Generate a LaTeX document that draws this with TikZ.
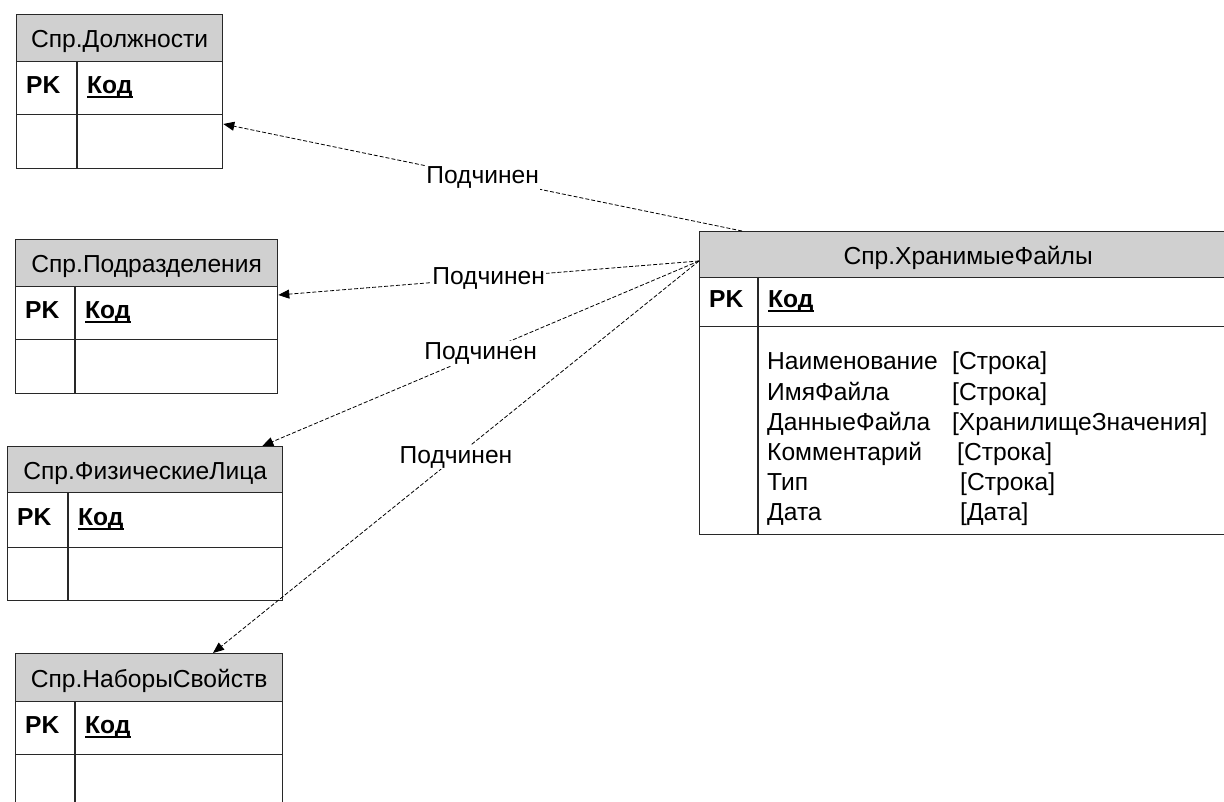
\documentclass[tikz,border=0pt]{standalone}
\usepackage{fontspec}
\setmainfont{Liberation Sans}
\usetikzlibrary{arrows.meta,calc}
\definecolor{hdrgray}{RGB}{208,208,208}
\definecolor{edge}{RGB}{40,40,40}
\newcommand\txtsize{\fontsize{24.6}{29}\selectfont}
% primary key name: bold with a heavy underline
\newcommand\keyname[1]{\setbox0\hbox{#1}\rlap{\rule[-4.3pt]{\wd0}{2pt}}\box0}
\tikzset{
  tbl/.style={draw=edge, line width=1.3pt},
  hdr/.style={tbl, fill=hdrgray, anchor=north west, inner sep=0pt,
    text height=20pt, text depth=1pt, font=\txtsize},
  rowbox/.style={tbl, anchor=north west, inner sep=0pt},
  pk/.style={anchor=base west, inner sep=0pt, font=\txtsize\bfseries},
  attr/.style={anchor=base west, inner sep=0pt, font=\txtsize},
  rel/.style={dash pattern=on 4pt off 2pt, line width=0.8pt,
    -{Triangle[length=11pt,width=9pt]}},
  lbl/.style={midway, fill=white, inner sep=1.5pt, font=\txtsize},
}
% #1 name, #2 left, #3 right, #4 top, #5 header bottom, #6 key row bottom,
% #7 bottom, #8 column divider, #9 title
\newcommand\erentity[9]{%
  \node[hdr, minimum width={(#3-#2)*1pt}, minimum height={(#5-#4)*1pt}] (#1) at (#2,#4) {#9};
  \node[rowbox, minimum width={(#3-#2)*1pt}, minimum height={(#6-#5)*1pt}] (#1-k) at (#2,#5) {};
  \node[rowbox, minimum width={(#3-#2)*1pt}, minimum height={(#7-#6)*1pt}] (#1-a) at (#2,#6) {};
  \draw[tbl] (#8,#5) -- (#8,#7);
  \node[pk] (#1-pk) at ($(#1-k.west)+(10,5.5)$) {PK};
  \node[pk] (#1-id) at ($(#1-k.west)+(#8-#2+10,5.5)$) {\keyname{Код}};
}
\begin{document}
\begin{tikzpicture}[x=1pt,y=-1pt]
\useasboundingbox (0,0) rectangle (1224,802);
\clip (0,0) rectangle (1224,802);

% entities
\erentity{t1}{16}{222}{14}{61}{114}{168}{77}{Спр.Должности}
\erentity{t2}{15}{277}{239}{286}{339}{393}{75}{Спр.Подразделения}
\erentity{t3}{7}{282}{446}{492}{547}{600}{68}{Спр.ФизическиеЛица}
\erentity{t4}{15}{282}{653}{701}{754}{812}{75}{Спр.НаборыСвойств}
\erentity{files}{699}{1236}{231}{277}{326}{534}{758}{Спр.ХранимыеФайлы}

% attributes of the stored files entity
\foreach \n/\t/\o [count=\i] in {
  Наименование/Строка/185,
  ИмяФайла/Строка/185,
  ДанныеФайла/ХранилищеЗначения/185,
  Комментарий/Строка/190,
  Тип/Строка/193,
  Дата/Дата/193}
  \node[attr] (files-f\i) at (767,340+30*\i) {\makebox[\o pt][l]{\n}[\t]};

% subordination links
\draw[rel] ($(files.north west)+(43,0)$) -- node[lbl] (lab1) {Подчинен} ($(t1-a.north east)+(0,10)$);
\draw[rel] ($(files.north west)+(0,30)$) -- node[lbl] (lab2) {Подчинен} ($(t2-k.north east)+(0,9)$);
\draw[rel] ($(files.north west)+(0,30)$) -- node[lbl] (lab3) {Подчинен} ($(t3.north east)+(-21,0)$);
\draw[rel] ($(files.north west)+(0,30)$) -- node[lbl] (lab4) {Подчинен} ($(t4.north west)+(198,0)$);
\end{tikzpicture}
\end{document}
